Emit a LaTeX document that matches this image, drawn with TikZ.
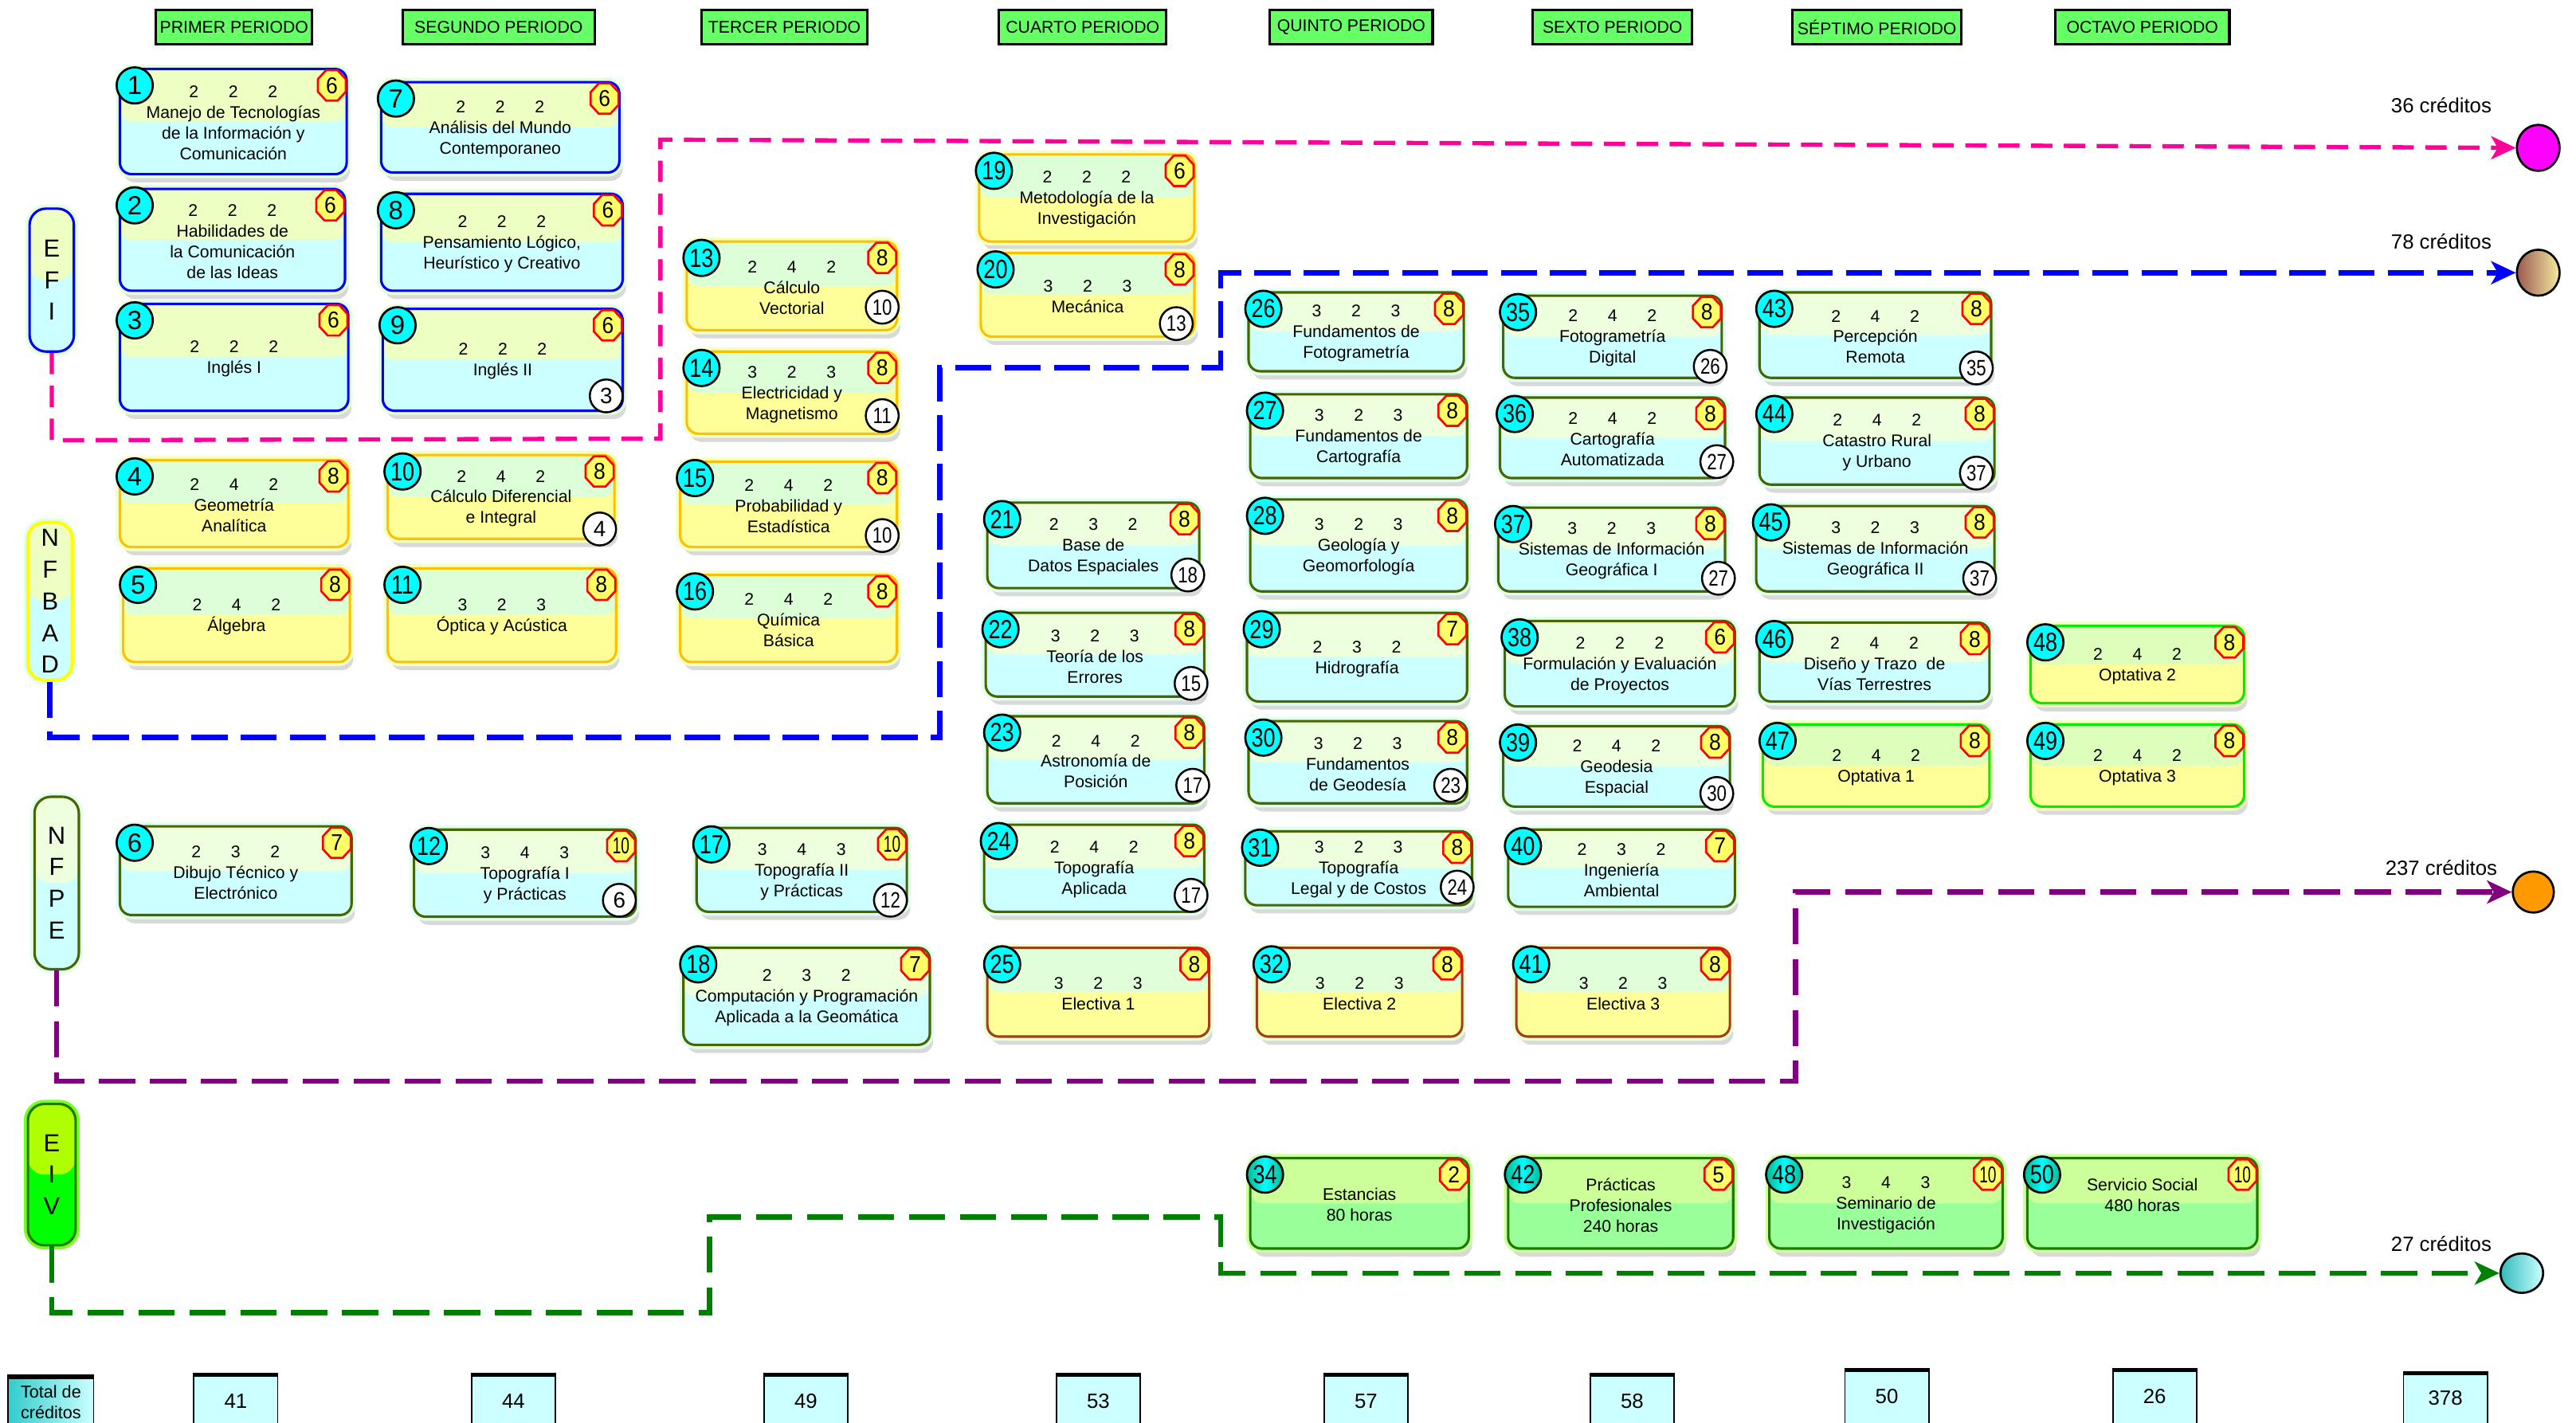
\documentclass[tikz,border=0pt]{standalone}
\usepackage{fontspec}
\setmainfont{Liberation Sans}
\usepackage{graphicx}
\usetikzlibrary{shapes.geometric,arrows.meta}
\definecolor{efiB}{HTML}{0000FF}\definecolor{efiT}{HTML}{EEFFC4}\definecolor{efiL}{HTML}{CCFFFF}\definecolor{efiH}{HTML}{E4FFD8}
\definecolor{basB}{HTML}{FFC000}\definecolor{basT}{HTML}{DDFFD8}\definecolor{basL}{HTML}{FFFF99}\definecolor{basH}{HTML}{F2FFC6}
\definecolor{proB}{HTML}{4A6400}\definecolor{proT}{HTML}{EEFFDD}\definecolor{proL}{HTML}{CCFFFF}\definecolor{proH}{HTML}{E0FFEC}
\definecolor{eleB}{HTML}{A0401A}\definecolor{eleT}{HTML}{E0FFD8}\definecolor{eleL}{HTML}{FFFF99}\definecolor{eleH}{HTML}{EEFFD6}
\definecolor{optB}{HTML}{00EE00}\definecolor{optT}{HTML}{DDFFBB}\definecolor{optL}{HTML}{FFFF99}\definecolor{optH}{HTML}{F4FFC0}
\definecolor{eivB}{HTML}{1E7A00}\definecolor{eivT}{HTML}{CCFF99}\definecolor{eivL}{HTML}{99FF99}\definecolor{eivH}{HTML}{CCFF99}
\definecolor{nfbB}{HTML}{FFFF00}\definecolor{eivcT}{HTML}{B0FF00}\definecolor{eivcL}{HTML}{00FF00}\definecolor{eivcH}{HTML}{77FF22}
\definecolor{idC}{HTML}{00FFFF}\definecolor{idG}{HTML}{00B890}\definecolor{octY}{HTML}{FFFF66}
\definecolor{hdrG}{HTML}{66FF66}\definecolor{totL}{HTML}{CCFFFF}\definecolor{totA}{HTML}{33CCCC}
\definecolor{pinkL}{HTML}{FF0099}\definecolor{blueL}{HTML}{0000FF}\definecolor{purpL}{HTML}{800080}\definecolor{greenL}{HTML}{008000}
\definecolor{endM}{HTML}{FF00FF}\definecolor{endBa}{HTML}{9A5A50}\definecolor{endBb}{HTML}{993366}\definecolor{endBc}{HTML}{F5EBA0}
\definecolor{endO}{HTML}{FF9900}\definecolor{endCa}{HTML}{33BBBB}\definecolor{endCb}{HTML}{CCFFFF}
\newcommand\txtfont{\fontsize{10.3}{12.6}\selectfont}
\newcommand\nm[3]{\makebox[24pt]{#1}\makebox[24pt]{#2}\makebox[24pt]{#3}}
\newcommand\idn[1]{\makebox[0pt]{\ifnum#1>9 \scalebox{0.82}[1]{#1}\else #1\fi}}
\newcommand\octn[1]{\makebox[0pt]{\ifnum#1>9 \scalebox{0.72}[1]{#1}\else #1\fi}}
\tikzset{
  every node/.style={inner sep=0pt},
  box/.style={rounded corners=7pt, line width=1.5pt, inner sep=0pt},
  band/.style={path picture={\fill[#1] (path picture bounding box.north west) rectangle (path picture bounding box.east);}},
  glow/.style={preaction={draw=#1, line width=5pt}},
  shad/.style={preaction={fill=black!15, transform canvas={shift={(2pt,-5pt)}}}},
  fam efi/.style={draw=efiB, fill=efiL, band=efiT, shad, glow=efiH},
  fam bas/.style={draw=basB, fill=basL, band=basT, shad, glow=basH},
  fam pro/.style={draw=proB, fill=proL, band=proT, shad, glow=proH},
  fam ele/.style={draw=eleB, fill=eleL, band=eleT, shad, glow=eleH},
  fam opt/.style={draw=optB, fill=optL, band=optT, shad, glow=optH},
  fam eiv/.style={draw=eivB, fill=eivL, band=eivT, shad, glow=eivH},
  idc/.style={circle, draw=black, line width=1.3pt, fill=idC, minimum size=22pt, font=\fontsize{16}{16}\selectfont},
  idc efi/.style={}, idc bas/.style={}, idc pro/.style={}, idc ele/.style={}, idc opt/.style={},
  idc eiv/.style={left color=idG, right color=idG, middle color=idC},
  oct/.style={regular polygon, regular polygon sides=8, minimum size=20pt, draw=red, line width=1.3pt, fill=octY, xscale=0.92, font=\fontsize{14}{14}\selectfont},
  pre/.style={circle, draw=black, line width=1.2pt, fill=white, minimum size=20pt, font=\fontsize{13.5}{13.5}\selectfont},
  txt/.style={align=center, font=\txtfont},
  cat/.style={box, rounded corners=10pt, align=center, font=\fontsize{15}{19.3}\selectfont},
  hdr/.style={draw=black, line width=1.5pt, fill=hdrG, minimum height=21pt, font=\txtfont},
  tbox/.style={draw=black, line width=0.9pt, fill=totL, minimum width=51pt, minimum height=40pt, anchor=north},
  tnum/.style={font=\fontsize{12.5}{12.5}\selectfont},
  lab/.style={font=\fontsize{12.5}{12.5}\selectfont},
  endp/.style={ellipse, draw=black, line width=1.3pt, minimum width=26pt, minimum height=28pt},
  route/.style={dashed, -{Stealth[length=15pt,width=14pt,inset=4pt]}},
}
\newcommand\crs[9]{%
  \node[box, fam #7, minimum width={(#5-#3)*1pt}, minimum height={(#6-#4)*1pt}] (#1) at ({(#3+#5)/2},{(#4+#6)/2}) {};
  \node[txt] (#1t) at ([yshift=-1pt]#1.center) {#9};
  \node[idc, idc #7] (#1i) at ({#3+9},{#4+10}) {\idn{#2}};
  \node[oct] (#1o) at ({#5-9},{#4+10}) {\octn{#8}};
}
\newcommand\pre[4]{\node[pre] (#1) at (#2,#3) {\makebox[0pt]{\ifnum#4>9 \scalebox{0.8}[1]{#4}\else #4\fi}};}
\newcommand\tot[5]{%
  \node[tbox] (#1) at (#2,#3) {};
  \draw[line width=2.6pt] (#1.north west) -- (#1.north east);
  \node[tnum] (#1t) at (#2,#4) {#5};
}
\begin{document}
\begin{tikzpicture}[x=1pt, y=-1pt]
\useasboundingbox (0,0) rectangle (1568,866);
% headers
\node[hdr, minimum width=95pt] (h1) at (142.5,16.5) {PRIMER PERIODO};
\node[hdr, minimum width=117pt] (h2) at (303.5,16.5) {SEGUNDO PERIODO};
\node[hdr, minimum width=101pt] (h3) at (477.5,16.5) {TERCER PERIODO};
\node[hdr, minimum width=102pt] (h4) at (659,16.5) {CUARTO PERIODO};
\node[hdr, minimum width=99pt] (h5) at (822.5,16.5) {QUINTO PERIODO};
\node[hdr, minimum width=97pt] (h6) at (981.5,16.5) {SEXTO PERIODO};
\node[hdr, minimum width=103pt] (h7) at (1142.5,16.5) {SÉPTIMO PERIODO};
\node[hdr, minimum width=106pt] (h8) at (1304,16.5) {OCTAVO PERIODO};
% category labels
\node[cat, draw=efiB, fill=efiL, band=efiT, glow=efiH, minimum width=27pt, minimum height=87pt] (efi) at (31.5,170.5) {E\\F\\I};
\node[cat, draw=nfbB, line width=2pt, fill=efiL, band=efiT, glow=proH, minimum width=27pt, minimum height=96pt] (nfbad) at (30.5,366) {N\\F\\B\\A\\D};
\node[cat, draw=proB, fill=proL, band=proT, glow=proH, minimum width=27pt, minimum height=105pt] (nfpe) at (34.5,537.5) {N\\F\\P\\E};
\node[cat, draw=eivB, fill=eivcL, band=eivcT, glow=eivcH, minimum width=29pt, minimum height=86pt] (eiv) at (31.5,715) {E\\I\\V};
% routes (drawn under boxes)
\node[endp, fill=endM] (t36) at (1545,90) {};
\node[endp, left color=endBa, middle color=endBb, right color=endBc] (t78) at (1545,166) {};
\node[endp, fill=endO, minimum width=25pt, minimum height=25pt] (t237) at (1542,543) {};
\node[endp, left color=endCa, right color=endCb, minimum height=24pt] (t27) at (1535,775) {};
\node[lab] (l36) at (1486,64) {36 créditos};
\node[lab] (l78) at (1486,147) {78 créditos};
\node[lab] (l237) at (1486,528) {237 créditos};
\node[lab] (l27) at (1486,757) {27 créditos};
\coordinate (pk1) at (31.5,268); \coordinate (pk2) at (402,267); \coordinate (pk3) at (402,85);
\coordinate (bl1) at (30.5,449); \coordinate (bl2) at (572,449); \coordinate (bl3) at (572,224); \coordinate (bl4) at (743,224); \coordinate (bl5) at (743,166);
\coordinate (pu1) at (34.5,658); \coordinate (pu2) at (1093,658); \coordinate (pu3) at (1093,543);
\coordinate (gr1) at (31.5,799); \coordinate (gr2) at (432,799); \coordinate (gr3) at (432,741); \coordinate (gr4) at (743,741); \coordinate (gr5) at (743,775);
\draw[route, draw=pinkL, line width=2.6pt, dash pattern=on 13pt off 7pt] (efi.south) -- (pk1) -- (pk2) -- (pk3) -- (t36.west);
\draw[route, draw=blueL, line width=3.3pt, dash pattern=on 22pt off 8pt] (nfbad.south) -- (bl1) -- (bl2) -- (bl3) -- (bl4) -- (bl5) -- (t78.west);
\draw[route, draw=purpL, line width=3.1pt, dash pattern=on 22pt off 9pt] (nfpe.south) -- (pu1) -- (pu2) -- (pu3) -- (t237.west);
\draw[route, draw=greenL, line width=3.3pt, dash pattern=on 22pt off 9pt] (eiv.south) -- (gr1) -- (gr2) -- (gr3) -- (gr4) -- (gr5) -- (t27.west);
% EFI courses
\crs{c1}{1}{73}{42}{211}{106}{efi}{6}{\nm222\\Manejo de Tecnologías\\de la Información y\\Comunicación}
\crs{c2}{2}{73}{115}{210}{177}{efi}{6}{\nm222\\Habilidades de\\la Comunicación\\de las Ideas}
\crs{c3}{3}{73}{185}{212}{250}{efi}{6}{\nm222\\Inglés I}
\crs{c7}{7}{232}{50}{377}{105}{efi}{6}{\nm222\\Análisis del Mundo\\Contemporaneo}
\crs{c8}{8}{232}{118}{379}{177}{efi}{6}{\nm222\\Pensamiento Lógico,\\Heurístico y Creativo}
\crs{c9}{9}{233}{188}{379}{250}{efi}{6}{\nm222\\Inglés II}
\pre{p9}{369}{241}{3}
% NFBAD courses
\crs{c4}{4}{73}{280}{212}{333}{bas}{8}{\nm242\\Geometría\\Analítica}
\crs{c5}{5}{75}{346}{213}{403}{bas}{8}{\nm242\\Álgebra}
\crs{c10}{10}{236}{277}{374}{328}{bas}{8}{\nm242\\Cálculo Diferencial\\e Integral}
\pre{p10}{365}{322}{4}
\crs{c11}{11}{236}{346}{375}{403}{bas}{8}{\nm323\\Óptica y Acústica}
\crs{c13}{13}{418}{147}{546}{201}{bas}{8}{\nm242\\Cálculo\\Vectorial}
\pre{p13}{537}{187}{10}
\crs{c14}{14}{418}{214}{546}{264}{bas}{8}{\nm323\\Electricidad y\\Magnetismo}
\pre{p14}{537}{253}{11}
\crs{c15}{15}{414}{281}{546}{333}{bas}{8}{\nm242\\Probabilidad y\\Estadística}
\pre{p15}{537}{326}{10}
\crs{c16}{16}{414}{350}{546}{403}{bas}{8}{\nm242\\Química\\Básica}
\crs{c19}{19}{596}{94}{727}{147}{bas}{6}{\nm222\\Metodología de la\\Investigación}
\crs{c20}{20}{597}{154}{727}{205}{bas}{8}{\nm323\\Mecánica}
\pre{p20}{716}{197}{13}
% NFPE courses
\crs{c6}{6}{73}{503}{214}{557}{pro}{7}{\nm232\\Dibujo Técnico y\\Electrónico}
\crs{c12}{12}{252}{505}{387}{558}{pro}{10}{\nm343\\Topografía I\\y Prácticas}
\pre{p12}{377}{548}{6}
\crs{c17}{17}{424}{504}{552}{555}{pro}{10}{\nm343\\Topografía II\\y Prácticas}
\pre{p17}{542}{548}{12}
\crs{c18}{18}{416}{577}{566}{636}{pro}{7}{\nm232\\Computación y Programación\\Aplicada a la Geomática}
\crs{c21}{21}{601}{306}{730}{358}{pro}{8}{\nm232\\Base de\\Datos Espaciales}
\pre{p21}{723}{350}{18}
\crs{c22}{22}{600}{373}{733}{424}{pro}{8}{\nm323\\Teoría de los\\Errores}
\pre{p22}{725}{416}{15}
\crs{c23}{23}{601}{436}{733}{489}{pro}{8}{\nm242\\Astronomía de\\Posición}
\pre{p23}{726}{478}{17}
\crs{c24}{24}{599}{502}{733}{555}{pro}{8}{\nm242\\Topografía\\Aplicada}
\pre{p24}{725}{545}{17}
\crs{c26}{26}{760}{178}{891}{226}{pro}{8}{\nm323\\Fundamentos de\\Fotogrametría}
\crs{c27}{27}{761}{240}{893}{291}{pro}{8}{\nm323\\Fundamentos de\\Cartografía}
\crs{c28}{28}{761}{304}{893}{360}{pro}{8}{\nm323\\Geología y\\Geomorfología}
\crs{c29}{29}{759}{373}{893}{427}{pro}{7}{\nm232\\Hidrografía}
\crs{c30}{30}{760}{439}{893}{489}{pro}{8}{\nm323\\Fundamentos\\de Geodesía}
\pre{p30}{883}{478}{23}
\crs{c31}{31}{758}{506}{896}{551}{pro}{8}{\nm323\\Topografía\\Legal y de Costos}
\pre{p31}{887}{540}{24}
\crs{c35}{35}{915}{180}{1048}{230}{pro}{8}{\nm242\\Fotogrametría\\Digital}
\pre{p35}{1041}{223}{26}
\crs{c36}{36}{913}{242}{1050}{291}{pro}{8}{\nm242\\Cartografía\\Automatizada}
\pre{p36}{1045}{281}{27}
\crs{c37}{37}{912}{309}{1050}{360}{pro}{8}{\nm323\\Sistemas de Información\\Geográfica I}
\pre{p37}{1046}{352}{27}
\crs{c38}{38}{916}{378}{1056}{430}{pro}{6}{\nm222\\Formulación y Evaluación\\de Proyectos}
\crs{c39}{39}{915}{442}{1053}{491}{pro}{8}{\nm242\\Geodesia\\Espacial}
\pre{p39}{1045}{483}{30}
\crs{c40}{40}{918}{505}{1056}{552}{pro}{7}{\nm232\\Ingeniería\\Ambiental}
\crs{c43}{43}{1071}{178}{1212}{230}{pro}{8}{\nm242\\Percepción\\Remota}
\pre{p43}{1203}{224}{35}
\crs{c44}{44}{1071}{242}{1214}{295}{pro}{8}{\nm242\\Catastro Rural\\y Urbano}
\pre{p44}{1203}{288}{37}
\crs{c45}{45}{1069}{308}{1214}{360}{pro}{8}{\nm323\\Sistemas de Información\\Geográfica II}
\pre{p45}{1205}{352}{37}
\crs{c46}{46}{1071}{379}{1211}{427}{pro}{8}{\nm242\\Diseño y Trazo~ de\\Vías Terrestres}
% electivas
\crs{c25}{25}{601}{577}{736}{631}{ele}{8}{\nm323\\Electiva 1}
\crs{c32}{32}{765}{577}{890}{631}{ele}{8}{\nm323\\Electiva 2}
\crs{c41}{41}{923}{577}{1053}{631}{ele}{8}{\nm323\\Electiva 3}
% optativas
\crs{c47}{47}{1073}{441}{1211}{491}{opt}{8}{\nm242\\Optativa 1}
\crs{c48}{48}{1236}{381}{1366}{428}{opt}{8}{\nm242\\Optativa 2}
\crs{c49}{49}{1236}{441}{1366}{491}{opt}{8}{\nm242\\Optativa 3}
% EIV
\crs{c34}{34}{761}{705}{894}{760}{eiv}{2}{Estancias\\80 horas}
\crs{c42}{42}{918}{705}{1055}{760}{eiv}{5}{Prácticas\\Profesionales\\240 horas}
\crs{c48s}{48}{1077}{705}{1219}{760}{eiv}{10}{\nm343\\Seminario de\\Investigación}
\crs{c50}{50}{1234}{705}{1374}{760}{eiv}{10}{Servicio Social\\480 horas\\\mbox{}}
% totals
\node[tbox, draw=black, left color=totA, right color=totL, minimum width=52pt] (ttot) at (31,838) {};
\draw[line width=2.6pt] (ttot.north west) -- (ttot.north east);
\node[align=center, font=\fontsize{10.5}{13}\selectfont] (ttott) at (31,853.5) {Total de\\créditos};
\tot{t1}{143.5}{837}{853}{41}
\tot{t2}{312.5}{837}{853}{44}
\tot{t3}{490.5}{837}{853}{49}
\tot{t4}{668.5}{837}{853}{53}
\tot{t5}{831.5}{837}{853}{57}
\tot{t6}{993.5}{837}{853}{58}
\tot{t7}{1148.5}{834}{850}{50}
\tot{t8}{1311.5}{834}{850}{26}
\tot{t9}{1488.5}{836}{851}{378}
\end{tikzpicture}
\end{document}
